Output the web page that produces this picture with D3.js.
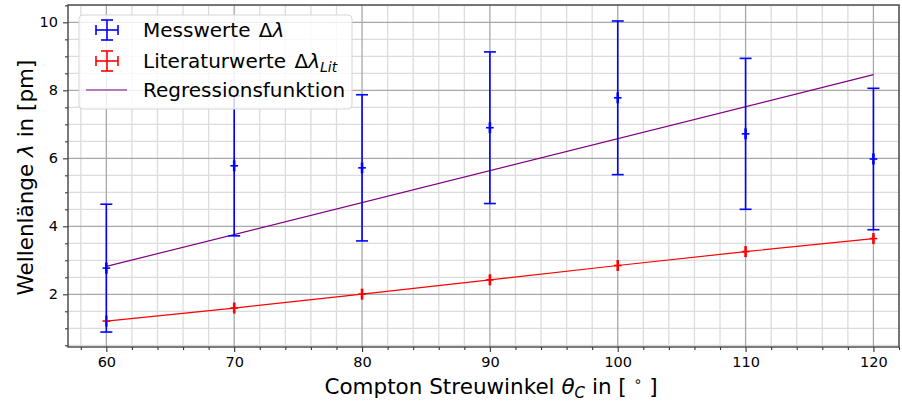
<!DOCTYPE html>
<html><head><meta charset="utf-8">
<script src="https://cdn.jsdelivr.net/npm/d3@7"></script>
<style>body{margin:0;background:#fff} svg{display:block} text{font-family:"DejaVu Sans",sans-serif;fill:#000}</style>
</head><body><svg id="c" width="902" height="403"></svg>
<script>
// ---- data ----
const angles = [60, 70, 80, 90, 100, 110, 120];
const measured = [2.77, 5.78, 5.72, 6.90, 7.78, 6.72, 5.98];
const measuredErr = [1.88, 2.06, 2.15, 2.23, 2.26, 2.22, 2.08];
const literature = [1.213, 1.596, 2.005, 2.426, 2.847, 3.256, 3.639];
const angleErr = [0.3, 0.3, 0.3, 0.3, 0.3, 0.3, 0.3];
const regAngles = [60, 120];
const regValues = [2.82, 8.46];
const xTicks = [60, 70, 80, 90, 100, 110, 120];
const yTicks = [2, 4, 6, 8, 10];

const svg = d3.select("#c");
const L = 68, R = 899, T = 5, B = 347;
const x = d3.scaleLinear().domain([57, 122]).range([L, R]);
const y = d3.scaleLinear().domain([0.45, 10.51]).range([B, T]);

const xMinor = d3.range(58, 122.01, 2).filter(v => v % 10 !== 0);
const yMinor = d3.range(0.5, 10.51, 0.5).filter(v => v % 2 !== 0);

const g = svg.append("g");
// grid minor
g.selectAll(".gxm").data(xMinor).join("line")
  .attr("x1", d => x(d)).attr("x2", d => x(d)).attr("y1", T).attr("y2", B)
  .attr("stroke", "#dcdcdc").attr("stroke-width", 1.3);
g.selectAll(".gym").data(yMinor).join("line")
  .attr("y1", d => y(d)).attr("y2", d => y(d)).attr("x1", L).attr("x2", R)
  .attr("stroke", "#dcdcdc").attr("stroke-width", 1.3);
// grid major
g.selectAll(".gxM").data(xTicks).join("line")
  .attr("x1", d => x(d)).attr("x2", d => x(d)).attr("y1", T).attr("y2", B)
  .attr("stroke", "#a8a8a8").attr("stroke-width", 1.3);
g.selectAll(".gyM").data(yTicks).join("line")
  .attr("y1", d => y(d)).attr("y2", d => y(d)).attr("x1", L).attr("x2", R)
  .attr("stroke", "#a8a8a8").attr("stroke-width", 1.3);

// axes
const ax = svg.append("g").attr("transform", `translate(0,${B})`)
  .call(d3.axisBottom(x).tickValues(xTicks).tickSize(5).tickPadding(5).tickFormat(d3.format("d")));
const axm = svg.append("g").attr("transform", `translate(0,${B})`)
  .call(d3.axisBottom(x).tickValues(xMinor).tickSize(3).tickFormat(""));
const ay = svg.append("g").attr("transform", `translate(${L},0)`)
  .call(d3.axisLeft(y).tickValues(yTicks).tickSize(5).tickPadding(5).tickFormat(d3.format("d")));
const aym = svg.append("g").attr("transform", `translate(${L},0)`)
  .call(d3.axisLeft(y).tickValues(yMinor).tickSize(3).tickFormat(""));
[ax, axm, ay, aym].forEach(a => {
  a.select(".domain").remove();
  a.selectAll(".tick line").attr("stroke", "#333").attr("stroke-width", 1.1);
  a.selectAll(".tick text").attr("font-size", 14.5).attr("font-family", "DejaVu Sans").attr("fill", "#111");
});
// spines
svg.append("rect").attr("x", L).attr("y", T).attr("width", R - L).attr("height", B - T)
  .attr("fill", "none").attr("stroke", "#444").attr("stroke-width", 1.4);

// regression line
const line = d3.line().x(d => x(d[0])).y(d => y(d[1]));
svg.append("path").datum(regAngles.map((a, i) => [a, regValues[i]]))
  .attr("d", line).attr("fill", "none").attr("stroke", "#800080").attr("stroke-width", 1.2);

// literature line + markers
svg.append("path").datum(angles.map((a, i) => [a, literature[i]]))
  .attr("d", line).attr("fill", "none").attr("stroke", "#ff0000").attr("stroke-width", 1.2);

function marker(sel, color) {
  sel.append("line").attr("x1", d => x(d.a - d.xe)).attr("x2", d => x(d.a + d.xe))
    .attr("y1", d => y(d.v)).attr("y2", d => y(d.v)).attr("stroke", color).attr("stroke-width", 1.6);
  sel.append("line").attr("x1", d => x(d.a)).attr("x2", d => x(d.a))
    .attr("y1", d => y(d.v) - 5.5).attr("y2", d => y(d.v) + 5.5).attr("stroke", color).attr("stroke-width", 2.6);
}

const litG = svg.append("g").selectAll("g").data(angles.map((a, i) => ({a, v: literature[i], xe: angleErr[i]})))
  .join("g");
marker(litG, "#ff0000");

// measured error bars
const mG = svg.append("g").selectAll("g")
  .data(angles.map((a, i) => ({a, v: measured[i], e: measuredErr[i], xe: angleErr[i]}))).join("g");
mG.append("line").attr("x1", d => x(d.a)).attr("x2", d => x(d.a))
  .attr("y1", d => y(d.v + d.e)).attr("y2", d => y(d.v - d.e)).attr("stroke", "#0000ff").attr("stroke-width", 1.6);
mG.append("line").attr("x1", d => x(d.a) - 6).attr("x2", d => x(d.a) + 6)
  .attr("y1", d => y(d.v + d.e)).attr("y2", d => y(d.v + d.e)).attr("stroke", "#0000ff").attr("stroke-width", 1.6);
mG.append("line").attr("x1", d => x(d.a) - 6).attr("x2", d => x(d.a) + 6)
  .attr("y1", d => y(d.v - d.e)).attr("y2", d => y(d.v - d.e)).attr("stroke", "#0000ff").attr("stroke-width", 1.6);
marker(mG, "#0000ff");

// legend
const lg = svg.append("g");
lg.append("rect").attr("x", 79).attr("y", 15).attr("width", 273).attr("height", 94).attr("rx", 4)
  .attr("fill", "#fff").attr("fill-opacity", 0.82).attr("stroke", "#d6d6d6").attr("stroke-width", 1);
function legErr(cx, cy, color) {
  lg.append("line").attr("x1", cx).attr("x2", cx).attr("y1", cy - 10).attr("y2", cy + 10).attr("stroke", color).attr("stroke-width", 1.6);
  lg.append("line").attr("x1", cx - 6).attr("x2", cx + 6).attr("y1", cy - 10).attr("y2", cy - 10).attr("stroke", color).attr("stroke-width", 1.6);
  lg.append("line").attr("x1", cx - 6).attr("x2", cx + 6).attr("y1", cy + 10).attr("y2", cy + 10).attr("stroke", color).attr("stroke-width", 1.6);
  lg.append("line").attr("x1", cx - 11).attr("x2", cx + 11).attr("y1", cy).attr("y2", cy).attr("stroke", color).attr("stroke-width", 1.6);
  lg.append("line").attr("x1", cx - 11).attr("x2", cx - 11).attr("y1", cy - 5).attr("y2", cy + 5).attr("stroke", color).attr("stroke-width", 1.6);
  lg.append("line").attr("x1", cx + 11).attr("x2", cx + 11).attr("y1", cy - 5).attr("y2", cy + 5).attr("stroke", color).attr("stroke-width", 1.6);
}
legErr(107, 30, "#0000ff");
legErr(107, 61, "#ff0000");
lg.append("line").attr("x1", 86).attr("x2", 127).attr("y1", 90).attr("y2", 90).attr("stroke", "#a050a8").attr("stroke-width", 1.3);

const t1 = lg.append("text").attr("x", 143).attr("y", 37).attr("font-size", 20);
t1.append("tspan").text("Messwerte ");
t1.append("tspan").attr("dx", 2).text("Δ");
t1.append("tspan").attr("font-style", "italic").text("λ");
const t2 = lg.append("text").attr("x", 143).attr("y", 68).attr("font-size", 20);
t2.append("tspan").text("Literaturwerte ");
t2.append("tspan").attr("dx", 2).text("Δ");
t2.append("tspan").attr("font-style", "italic").text("λ");
t2.append("tspan").attr("font-style", "italic").attr("font-size", 14).attr("dy", 4).text("Lit");
lg.append("text").attr("x", 143).attr("y", 97).attr("font-size", 20).text("Regressionsfunktion");

// axis labels
const xl = svg.append("text").attr("x", 491).attr("y", 394).attr("text-anchor", "middle").attr("font-size", 21.5);
xl.append("tspan").text("Compton Streuwinkel ");
xl.append("tspan").attr("font-style", "italic").text("θ");
xl.append("tspan").attr("font-style", "italic").attr("font-size", 15).attr("dy", 4).text("C");
xl.append("tspan").attr("dy", -4).text(" in [ ");
xl.append("tspan").attr("font-size", 14).attr("dy", -8).text("∘");
xl.append("tspan").attr("dy", 8).text(" ]");

const yl = svg.append("text").attr("transform", `translate(33,177.5) rotate(-90)`)
  .attr("text-anchor", "middle").attr("font-size", 21.5);
yl.append("tspan").text("Wellenlänge ");
yl.append("tspan").attr("font-style", "italic").text("λ");
yl.append("tspan").text(" in [pm]");
</script></body></html>
